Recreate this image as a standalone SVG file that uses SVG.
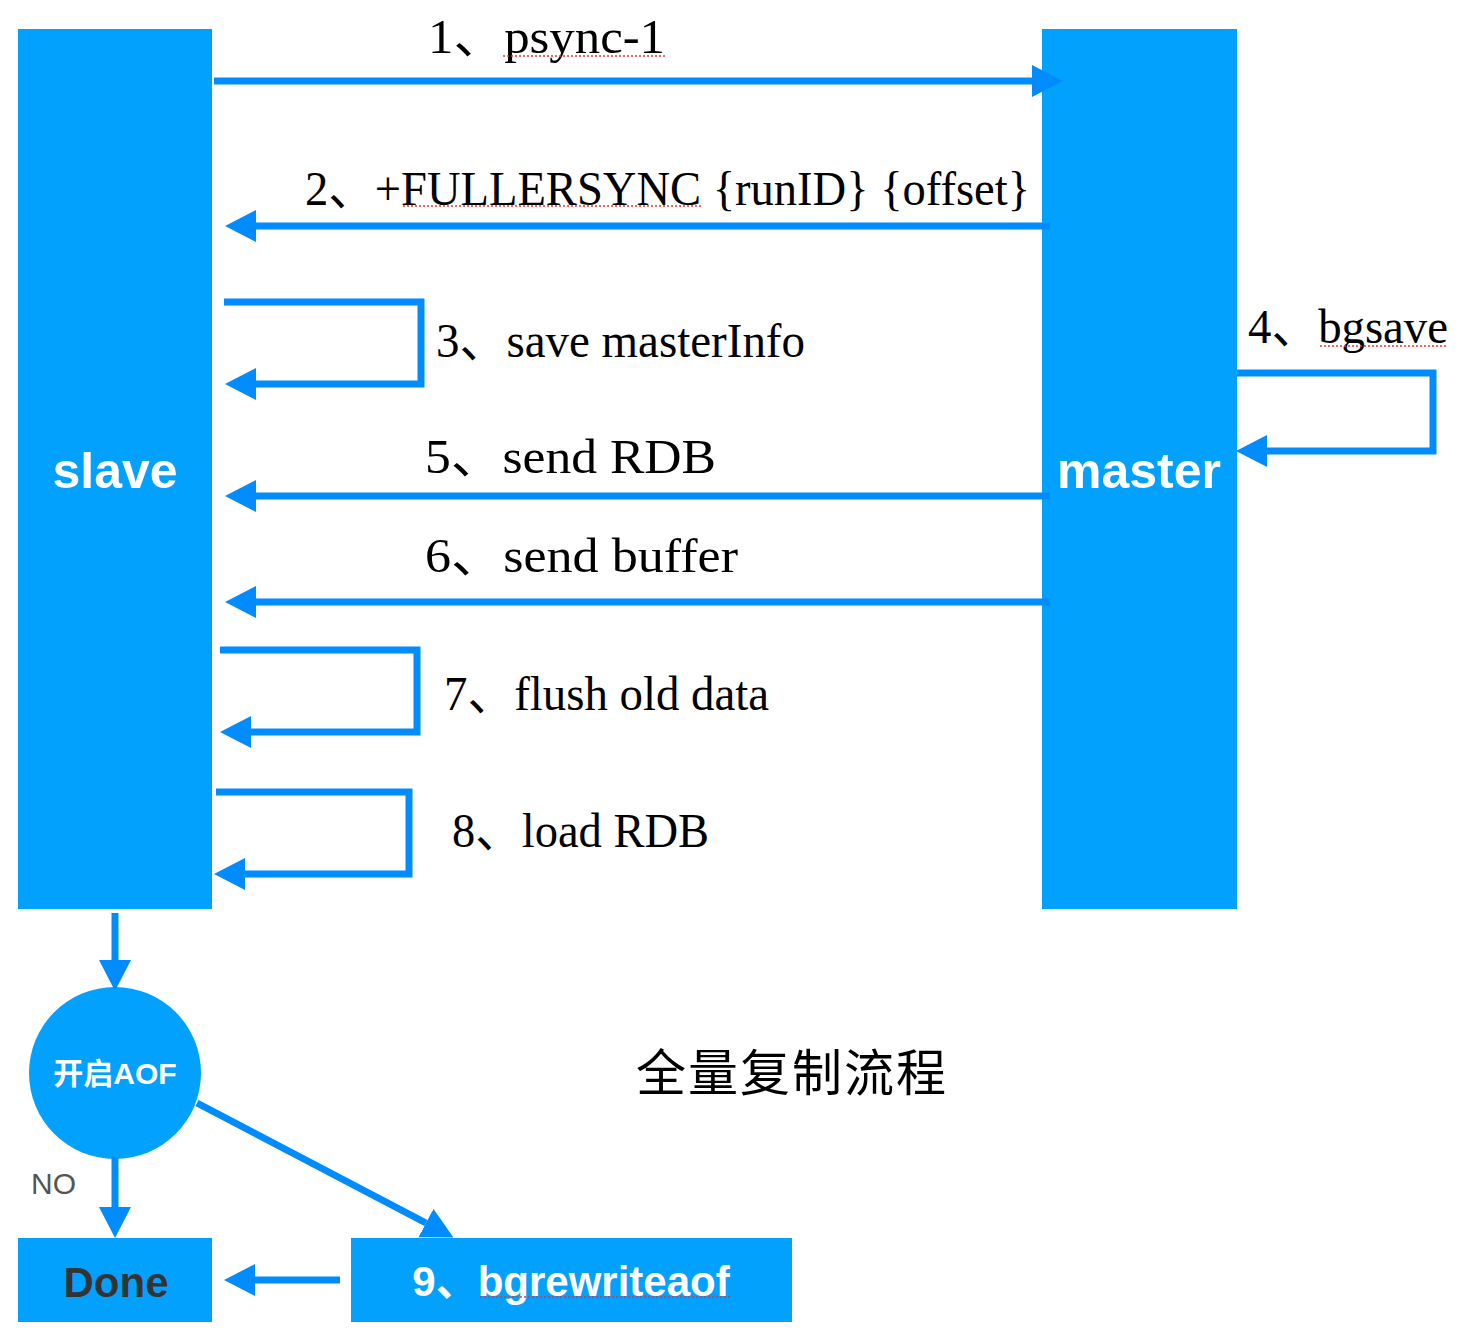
<svg xmlns="http://www.w3.org/2000/svg" width="1470" height="1342" viewBox="0 0 1470 1342">
  <style>
    .node { fill: #03A1FE; }
    .conn { fill: none; stroke: #008CFF; stroke-width: 7; stroke-linejoin: miter; }
    .lbl { font-family: "Liberation Serif", "Noto Sans CJK SC", serif; font-size: 48px; fill: #000; }
    .ntxt { font-family: "Liberation Sans", "Noto Sans CJK SC", sans-serif; font-weight: bold; fill: #fff; text-anchor: middle; }
    .spell { stroke: #E8362F; stroke-width: 1.5; stroke-dasharray: 2 2; fill: none; }
  </style>
  <defs>
    <marker id="ah" markerUnits="userSpaceOnUse" markerWidth="31" markerHeight="32" viewBox="0 0 31 32" refX="0" refY="16" orient="auto">
      <path d="M0,0 L31,16 L0,32 Z" fill="#008CFF"/>
    </marker>
  </defs>
  <rect width="1470" height="1342" fill="#fff"/>

  <g id="slave">
    <rect class="node" x="18" y="29" width="194" height="880"/>
    <text class="ntxt" x="115" y="488" font-size="50">slave</text>
  </g>
  <g id="master">
    <rect class="node" x="1042" y="29" width="195" height="880"/>
    <text class="ntxt" x="1139" y="488" font-size="50">master</text>
  </g>
  <g id="aof">
    <circle class="node" cx="115" cy="1073" r="86"/>
    <text class="ntxt" x="115" y="1084" font-size="30">开启AOF</text>
  </g>
  <g id="done">
    <rect class="node" x="18" y="1238" width="194" height="84"/>
    <text class="ntxt" x="116" y="1297" font-size="42" style="fill:#333">Done</text>
  </g>
  <g id="bgrewriteaof">
    <rect class="node" x="351" y="1238" width="441" height="84"/>
    <text class="ntxt" x="571" y="1296" font-size="42">9、bgrewriteaof</text>
    <path class="spell" d="M480,1297 H731"/>
  </g>

  <g id="connectors">
    <path class="conn" d="M214,81 H1032" marker-end="url(#ah)"/>
    <path class="conn" d="M1050,226 H256" marker-end="url(#ah)"/>
    <path class="conn" d="M224,302 H421 V384 H256" marker-end="url(#ah)"/>
    <path class="conn" d="M1237,373 H1433 V451 H1267" marker-end="url(#ah)"/>
    <path class="conn" d="M1050,496 H256" marker-end="url(#ah)"/>
    <path class="conn" d="M1050,602 H256" marker-end="url(#ah)"/>
    <path class="conn" d="M220,650 H417 V732 H251" marker-end="url(#ah)"/>
    <path class="conn" d="M216,792 H409 V874 H245" marker-end="url(#ah)"/>
    <path class="conn" d="M115,913 V960" marker-end="url(#ah)"/>
    <path class="conn" d="M115,1157 V1207" marker-end="url(#ah)"/>
    <path class="conn" d="M197,1103 L426,1223" marker-end="url(#ah)"/>
    <path class="conn" d="M340,1280 H255" marker-end="url(#ah)"/>
  </g>

  <g id="labels">
    <text class="lbl" x="428" y="53" textLength="237" lengthAdjust="spacingAndGlyphs">1、psync-1</text>
    <path class="spell" d="M503,56 H666"/>
    <text class="lbl" x="305" y="205" textLength="725" lengthAdjust="spacingAndGlyphs">2、+FULLERSYNC {runID}  {offset}</text>
    <path class="spell" d="M403,206 H703"/>
    <text class="lbl" x="436" y="357" textLength="369" lengthAdjust="spacingAndGlyphs">3、save masterInfo</text>
    <text class="lbl" x="1248" y="343" textLength="200" lengthAdjust="spacingAndGlyphs">4、bgsave</text>
    <path class="spell" d="M1320,346 H1448"/>
    <text class="lbl" x="425" y="473" textLength="291" lengthAdjust="spacingAndGlyphs">5、send RDB</text>
    <text class="lbl" x="425" y="572" textLength="313" lengthAdjust="spacingAndGlyphs">6、send buffer</text>
    <text class="lbl" x="444" y="710" textLength="325" lengthAdjust="spacingAndGlyphs">7、flush old data</text>
    <text class="lbl" x="452" y="847" textLength="257" lengthAdjust="spacingAndGlyphs">8、load RDB</text>
    <text x="31" y="1194" font-family="Liberation Sans, sans-serif" font-size="30" fill="#555">NO</text>
    <text x="636" y="1091" font-family="Noto Sans CJK SC, sans-serif" font-size="50" letter-spacing="2" fill="#000">全量复制流程</text>
  </g>
</svg>
